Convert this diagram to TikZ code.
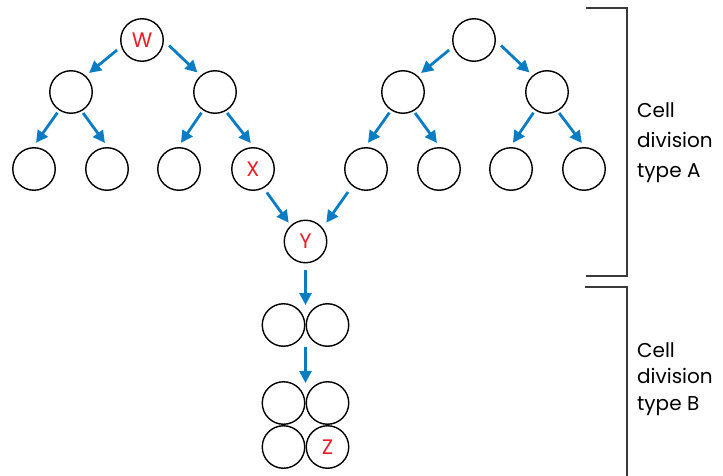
\documentclass[tikz,border=0pt]{standalone}
\usepackage{fontspec}
\setmainfont{Poppins}
\usetikzlibrary{arrows.meta}
\definecolor{arrblue}{HTML}{0A7CC4}
\definecolor{lblred}{HTML}{E8202A}
\definecolor{brk}{HTML}{3A3A3A}
\begin{document}
\begin{tikzpicture}[x=1pt,y=-1pt,
  cell/.style={circle,draw=black,line width=1.4pt,minimum size=42.5pt,inner sep=0pt,outer sep=0pt,
    font=\fontsize{21}{21}\selectfont,text=lblred},
  arr/.style={draw=arrblue,line width=2.8pt,-{Triangle[length=12pt,width=12pt]}},
  lblA/.style={align=left,anchor=north west,inner sep=0pt,font=\fontsize{20}{30}\selectfont},
  lblB/.style={align=left,anchor=north west,inner sep=0pt,font=\fontsize{20}{26.5}\selectfont},
  bracket/.style={draw=brk,line width=1.4pt}]
\useasboundingbox (0,0) rectangle (723,476);
% top level
\node[cell] (W) at (142,40) {W};
\node[cell] (R) at (474,40) {};
% level 2
\node[cell] (a1) at (71,92) {};
\node[cell] (a2) at (215,92) {};
\node[cell] (a3) at (403,92) {};
\node[cell] (a4) at (547,92) {};
% level 3
\node[cell] (b1) at (34,169) {};
\node[cell] (b2) at (107,169) {};
\node[cell] (b3) at (179,169) {};
\node[cell] (b4) at (253,169) {X};
\node[cell] (b5) at (366,169) {};
\node[cell] (b6) at (439,169) {};
\node[cell] (b7) at (511,169) {};
\node[cell] (b8) at (584,169) {};
% Y
\node[cell] (Y) at (305.5,241.5) {Y};
% pairs
\node[cell] (c1) at (283.5,325) {};
\node[cell] (c2) at (327.5,325) {};
\node[cell] (d1) at (283.5,403) {};
\node[cell] (d2) at (327.5,403) {};
\node[cell] (e1) at (283.5,447) {};
\node[cell] (e2) at (327.5,447) {Z};
\coordinate (cTop) at (305.5,305);
\coordinate (cBot) at (305.5,347);
\coordinate (dTop) at (305.5,383);
% arrows top
\draw[arr,shorten <=6pt,shorten >=5pt] (W.197) -- (a1.48);
\draw[arr,shorten <=8pt,shorten >=5pt] (W.0) -- (a2.131);
\draw[arr,shorten <=6pt,shorten >=5pt] (R.197) -- (a3.48);
\draw[arr,shorten <=8pt,shorten >=5pt] (R.0) -- (a4.131);
% level 2 -> 3
\draw[arr,shorten <=3.5pt,shorten >=6pt] (a1.237) -- (b1.94);
\draw[arr,shorten <=3pt,shorten >=6pt] (a1.299) -- (b2.86);
\draw[arr,shorten <=3.5pt,shorten >=6pt] (a2.237) -- (b3.94);
\draw[arr,shorten <=3pt,shorten >=6pt] (a2.299) -- (b4.86);
\draw[arr,shorten <=3.5pt,shorten >=6pt] (a3.237) -- (b5.94);
\draw[arr,shorten <=3pt,shorten >=6pt] (a3.299) -- (b6.86);
\draw[arr,shorten <=3.5pt,shorten >=6pt] (a4.237) -- (b7.94);
\draw[arr,shorten <=3pt,shorten >=6pt] (a4.299) -- (b8.86);
% to Y
\draw[arr,shorten <=6pt,shorten >=4pt] (b4.299) -- (Y.133);
\draw[arr,shorten <=8pt,shorten >=7pt] (b5.231) -- (Y.38);
% downward
\draw[arr,shorten <=7pt] (Y.south) -- (cTop);
\draw[arr] (cBot) -- (dTop);
% brackets
\draw[bracket] (586,8) -- (627,8) -- (627,276) -- (586,276);
\draw[bracket] (585,287) -- (627,287) -- (627,476);
% labels
\node[lblA] (labA) at (637,103) {Cell\\division\\type A};
\node[lblB] (labB) at (637,342) {Cell\\division\\type B};
\end{tikzpicture}
\end{document}
